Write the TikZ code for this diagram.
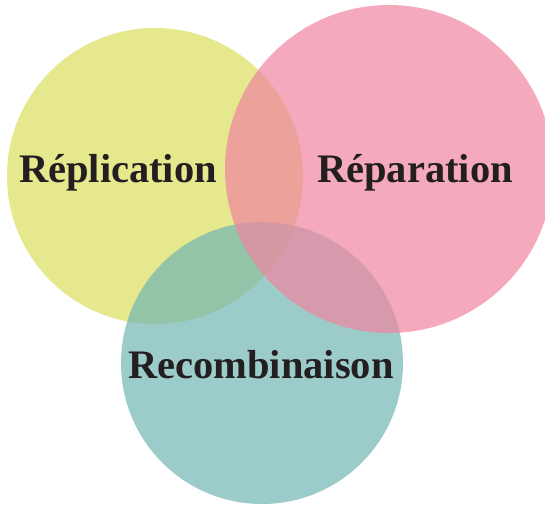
\documentclass[tikz,border=0pt]{standalone}
\usepackage{fontspec}
\setmainfont{Liberation Serif}
\definecolor{jaune}{RGB}{230,232,142}
\definecolor{rose}{RGB}{241,132,161}
\definecolor{vert}{RGB}{114,182,178}
\definecolor{encre}{RGB}{35,31,32}
\begin{document}
\begin{tikzpicture}
		[x=1pt,y=-1pt,
		disque/.style={circle,draw=none,inner sep=0pt,minimum size=#1},
		titre/.style={anchor=base,text=encre,font=\bfseries\fontsize{40.5}{40.5}\selectfont}]
		\useasboundingbox (0,0) rectangle (545,504);
		\node[disque=296pt,fill=jaune,name=repl] at (155,176) {};
		\node[disque=282pt,fill=vert,fill opacity=0.7,name=recomb] at (262,363) {};
		\node[disque=328pt,fill=rose,fill opacity=0.7,name=repar] at (389,169) {};
		% les trois titres
		\node[titre,name=t1] at (118,182) {Réplication};
		\node[titre,name=t2] at (415,182) {Réparation};
		\node[titre,name=t3] at (261,378) {Recombinaison};
	\end{tikzpicture}
\end{document}
